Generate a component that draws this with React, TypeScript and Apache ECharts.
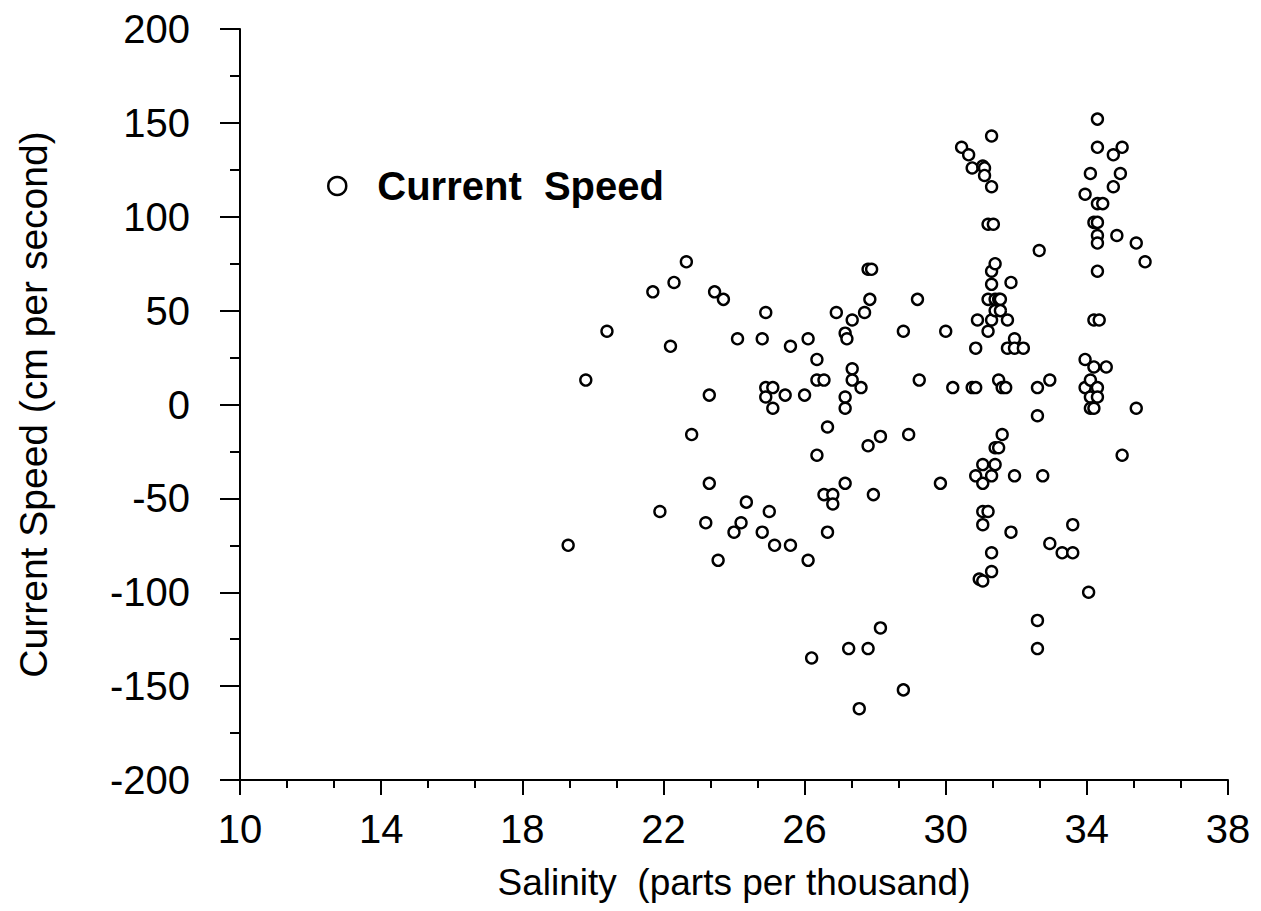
import React, { useEffect, useRef } from "react";
import * as echarts from "echarts";

const seriesName = "Current  Speed";
const xAxisTitle = "Salinity  (parts per thousand)";
const yAxisTitle = "Current Speed (cm per second)";

// Salinity (parts per thousand)
const salinity: number[] = [
  19.3, 19.8, 20.4, 21.7, 21.9, 22.2, 22.3, 22.65, 22.8, 23.2,
  23.3, 23.3, 23.45, 23.55, 23.7, 24.0, 24.1, 24.2, 24.35, 24.8,
  24.8, 24.9, 24.9, 24.9, 25.0, 25.1, 25.1, 25.15, 25.45, 25.6,
  25.6, 26.0, 26.1, 26.1, 26.2, 26.35, 26.35, 26.35, 26.55, 26.55,
  26.65, 26.65, 26.8, 26.8, 26.9, 27.15, 27.2, 27.15, 27.15, 27.15,
  27.25, 27.35, 27.35, 27.35, 27.55, 27.6, 27.7, 27.8, 27.9, 27.85,
  27.8, 27.8, 27.95, 28.15, 28.15, 28.8, 28.8, 28.95, 29.2, 29.25,
  29.85, 30.0, 30.2, 30.45, 30.65, 30.75, 30.75, 30.85, 30.85, 30.9,
  30.85, 30.95, 31.05, 31.1, 31.1, 31.05, 31.05, 31.05, 31.05, 31.05,
  31.2, 31.2, 31.2, 31.2, 31.35, 31.3, 31.3, 31.3, 31.3, 31.3,
  31.3, 31.3, 31.3, 31.4, 31.4, 31.4, 31.4, 31.4, 31.5, 31.55,
  31.55, 31.5, 31.5, 31.6, 31.6, 31.7, 31.75, 31.75, 31.85, 31.85,
  31.95, 31.95, 31.95, 32.2, 32.6, 32.6, 32.6, 32.6, 32.65, 32.75,
  32.95, 32.95, 33.3, 33.6, 33.6, 33.95, 33.95, 33.95, 34.05, 34.1,
  34.1, 34.1, 34.1, 34.2, 34.2, 34.2, 34.2, 34.3, 34.3, 34.3,
  34.3, 34.3, 34.3, 34.3, 34.3, 34.3, 34.35, 34.45, 34.55, 34.75,
  34.75, 34.85, 34.95, 35.0, 35.0, 35.4, 35.4, 35.65,
];

// Current speed (cm per second)
const speed: number[] = [
  -75, 13, 39, 60, -57, 31, 65, 76, -16, -63,
  5, -42, 60, -83, 56, -68, 35, -63, -52, 35,
  -68, 49, 9, 4, -57, 9, -2, -75, 5, 31,
  -75, 5, 35, -83, -135, 24, 13, -27, 13, -48,
  -12, -68, -48, -53, 49, 38, 35, 4, -2, -42,
  -130, 45, 19, 13, -162, 9, 49, 72, 72, 56,
  -130, -22, -48, -17, -119, 39, -152, -16, 56, 13,
  -42, 39, 9, 137, 133, 126, 9, 9, 30, 45,
  -38, -93, 127, 126, 122, -32, -42, -57, -64, -94,
  -57, 56, 39, 96, 96, 143, 116, 71, 64, 45,
  -38, -79, -89, 75, 56, 50, -23, -32, 56, 56,
  50, 13, -23, 9, -16, 9, 45, 30, 65, -68,
  35, 30, -38, 30, 9, -6, -115, -130, 82, -38,
  13, -74, -79, -64, -79, 112, 24, 9, -100, 123,
  13, 4, -2, 97, 45, 20, -2, 152, 137, 107,
  97, 90, 86, 71, 9, 4, 45, 107, 20, 116,
  133, 90, 123, 137, -27, 86, -2, 76,
];

const xTicks = { min: 10, max: 38, interval: 4 };
const yTicks = { min: -200, max: 200, interval: 50 };

const FONT = "'Liberation Sans', Arial, Helvetica, sans-serif";

export default function App() {
  const ref = useRef<HTMLDivElement>(null);
  useEffect(() => {
    if (!ref.current) return;
    const chart = echarts.init(ref.current, null, { renderer: "svg" });
    const points = salinity.map((s, i) => [s, speed[i]]);
    chart.setOption({
      animation: false,
      backgroundColor: "#ffffff",
      textStyle: { fontFamily: FONT },
      grid: { left: 240, right: 33, top: 29, bottom: 131, containLabel: false },
      legend: {
        show: true,
        left: 322,
        top: 161,
        orient: "horizontal",
        icon: "circle",
        itemWidth: 18,
        itemHeight: 18,
        itemStyle: { color: "#ffffff", borderColor: "#000000", borderWidth: 2.5 },
        textStyle: {
          fontFamily: FONT,
          fontSize: 40,
          fontWeight: "bold",
          color: "#000000",
          padding: [0, 0, 0, 26],
        },
        data: [seriesName],
      },
      xAxis: {
        type: "value",
        min: xTicks.min,
        max: xTicks.max,
        interval: xTicks.interval,
        name: xAxisTitle,
        nameLocation: "middle",
        nameGap: 84,
        nameTextStyle: { fontFamily: FONT, fontSize: 37, color: "#000000" },
        axisLine: { show: true, onZero: false, lineStyle: { color: "#000000", width: 2 } },
        axisTick: { show: true, inside: false, length: 15, lineStyle: { color: "#000000", width: 2 } },
        minorTick: { show: true, splitNumber: 3, length: 8, lineStyle: { color: "#000000", width: 2 } },
        splitLine: { show: false },
        minorSplitLine: { show: false },
        axisLabel: { fontFamily: FONT, fontSize: 40, color: "#000000", margin: 29 },
      },
      yAxis: {
        type: "value",
        min: yTicks.min,
        max: yTicks.max,
        interval: yTicks.interval,
        name: yAxisTitle,
        nameLocation: "middle",
        nameRotate: 90,
        nameGap: 187,
        nameTextStyle: { fontFamily: FONT, fontSize: 39, color: "#000000" },
        axisLine: { show: true, onZero: false, lineStyle: { color: "#000000", width: 2 } },
        axisTick: { show: true, inside: false, length: 20, lineStyle: { color: "#000000", width: 2 } },
        minorTick: { show: true, splitNumber: 2, length: 10, lineStyle: { color: "#000000", width: 2 } },
        splitLine: { show: false },
        minorSplitLine: { show: false },
        axisLabel: { fontFamily: FONT, fontSize: 40, color: "#000000", margin: 50 },
      },
      series: [
        {
          name: seriesName,
          type: "scatter",
          data: points,
          symbol: "circle",
          symbolSize: 11,
          itemStyle: { color: "#ffffff", borderColor: "#000000", borderWidth: 2.4, opacity: 1 },
          emphasis: { disabled: true },
        },
      ],
    });
    return () => chart.dispose();
  }, []);
  return (
    <div
      ref={ref}
      style={{ position: "fixed", left: 0, top: 0, width: 1261, height: 911, background: "#ffffff" }}
    />
  );
}
